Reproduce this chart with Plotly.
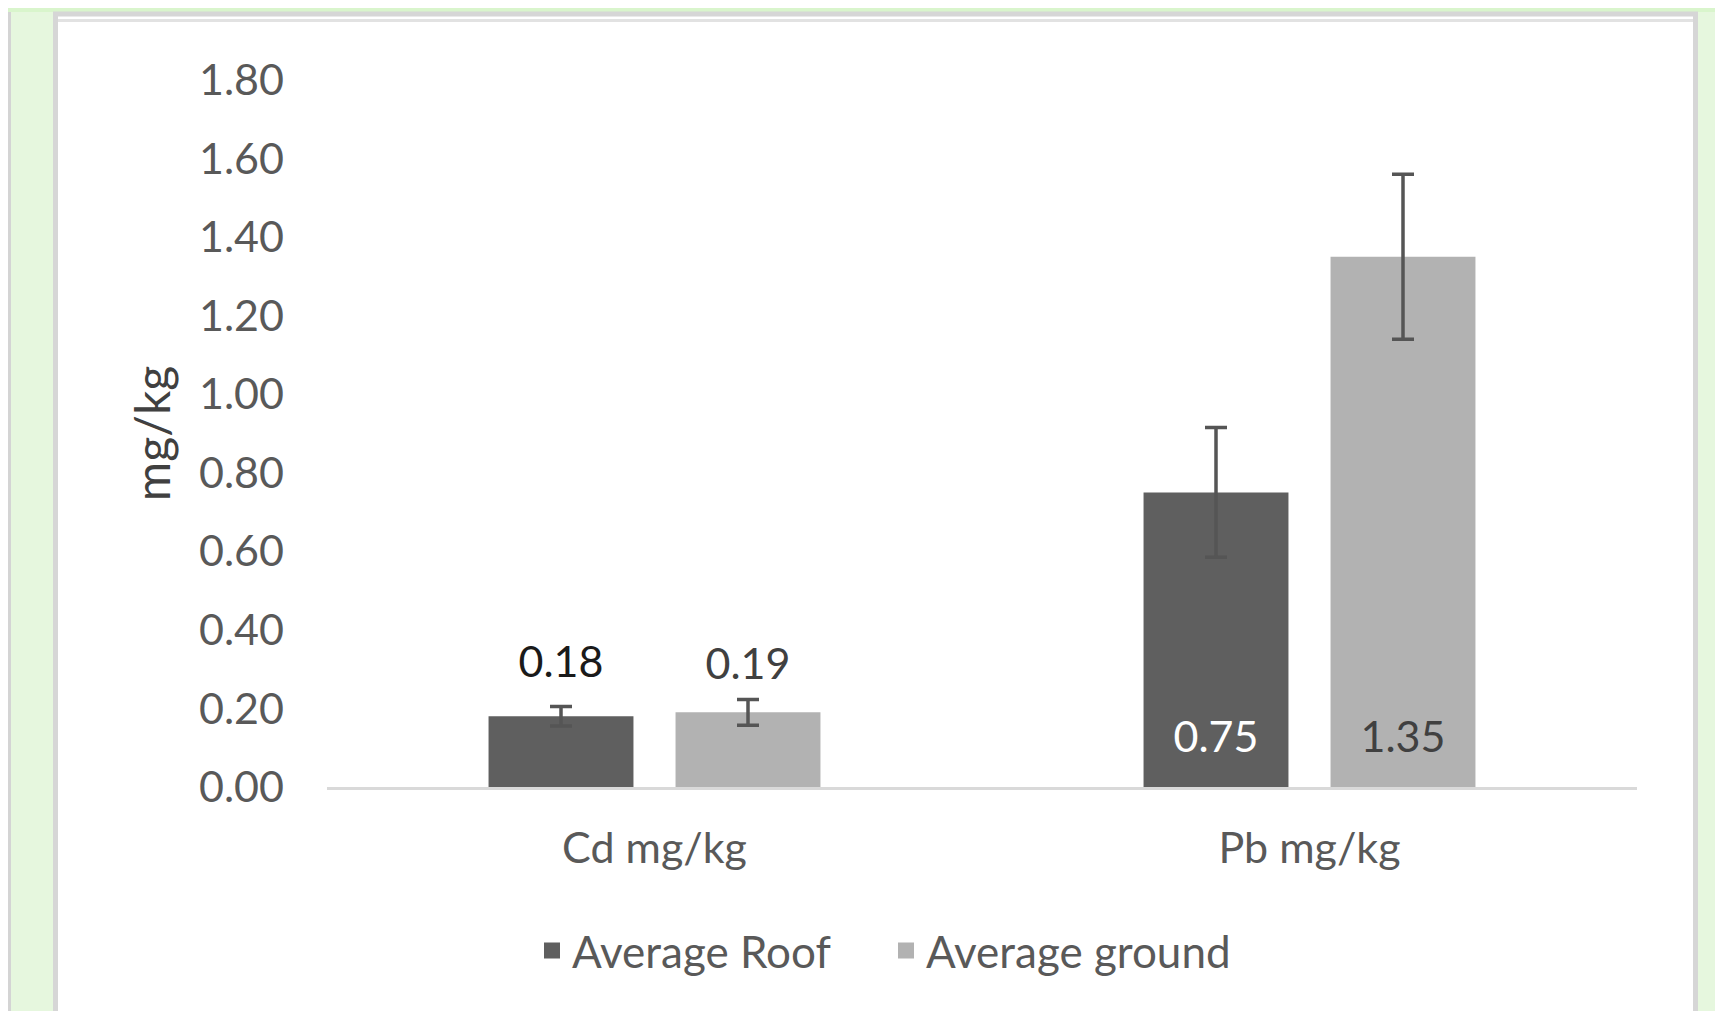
import plotly.graph_objects as go

categories = ["Cd mg/kg", "Pb mg/kg"]
series_names = ["Average Roof", "Average ground"]
roof_values = [0.18, 0.75]
ground_values = [0.19, 1.35]
roof_err = [0.025, 0.165]
ground_err = [0.033, 0.21]
roof_label_colors = ["#1a1a1a", "#ffffff"]
ground_label_colors = ["#404040", "#404040"]
y_ticks = [0.0, 0.2, 0.4, 0.6, 0.8, 1.0, 1.2, 1.4, 1.6, 1.8]

ROOF_COLOR = "#5f5f5f"
GROUND_COLOR = "#b2b2b2"
ERR_COLOR = "#555555"
FONT = "Lato"
FS = 43

OFF = 8  # page body margin offset
W, H = 1723, 1011
PW, PH = 1310, 707
ML = 327 - OFF
MT = 80 - OFF
MR = W - ML - PW
MB = H - MT - PH

def xp(px):
    return (px - OFF - ML) / PW

def yp(py):
    return (MT + PH - (py - OFF)) / PH

fig = go.Figure()

# label offset (marker radius) per point: styling only
roof_label_pad = [44, 37]
ground_label_pad = [35, 37]

series = [
    (series_names[0], roof_values, roof_err, ROOF_COLOR, roof_label_colors, "roof", roof_label_pad),
    (series_names[1], ground_values, ground_err, GROUND_COLOR, ground_label_colors, "ground", ground_label_pad),
]

for name, vals, errs, color, lcolors, og, pad in series:
    fig.add_trace(go.Bar(
        x=categories, y=vals, name=name, marker=dict(color=color, line=dict(width=0)),
        error_y=dict(type="data", array=errs, visible=True, color=ERR_COLOR, thickness=3.5, width=11),
        offsetgroup=og, showlegend=False, hoverinfo="skip",
    ))

# data labels: above small bars, at the base inside tall bars
for name, vals, errs, color, lcolors, og, pad in series:
    ypos = [v if v < 0.5 else 0 for v in vals]
    fig.add_trace(go.Scatter(
        x=categories, y=ypos, mode="markers+text",
        text=[f"{v:.2f}" for v in vals], textposition="top center",
        textfont=dict(family=FONT, size=FS, color=lcolors),
        marker=dict(size=pad, color="rgba(0,0,0,0)", opacity=0,
                    line=dict(width=0, color="rgba(0,0,0,0)")),
        offsetgroup=og, showlegend=False, hoverinfo="skip",
    ))

# legend entries
for name, vals, errs, color, lcolors, og, pad in series:
    fig.add_trace(go.Scatter(
        x=[None], y=[None], mode="markers", name=name,
        marker=dict(symbol="square", size=22, color=color, line=dict(width=0)),
        offsetgroup=og, showlegend=True, hoverinfo="skip",
    ))

shapes = [
    dict(type="rect", xref="paper", yref="paper", x0=xp(-10), x1=xp(W + 10), y0=yp(12), y1=yp(-10),
         fillcolor="#d9f5cc", line=dict(width=0), layer="below"),
    dict(type="rect", xref="paper", yref="paper", x0=xp(6), x1=xp(11), y0=yp(H + 20), y1=yp(12),
         fillcolor="#d4d4d4", line=dict(width=0), layer="below"),
    dict(type="rect", xref="paper", yref="paper", x0=xp(55.5), x1=xp(1695.5), y0=yp(H + 30), y1=yp(14),
         fillcolor="#ffffff", line=dict(color="#d6d6d6", width=5), layer="below"),
    dict(type="line", xref="paper", yref="paper", x0=xp(58), x1=xp(1693), y0=yp(20.5), y1=yp(20.5),
         line=dict(color="#e2e2e2", width=3), layer="below"),
]

fig.update_layout(
    width=W, height=H,
    margin=dict(l=ML, r=MR, t=MT, b=MB, autoexpand=False),
    paper_bgcolor="#e6f7de", plot_bgcolor="#ffffff",
    barmode="group", bargap=0.429, bargroupgap=0.225,
    scattermode="group",
    font=dict(family=FONT, size=FS, color="#595959"),
    shapes=shapes,
    showlegend=True,
    legend=dict(orientation="h", x=xp(886), xanchor="center", y=yp(951), yanchor="middle",
                font=dict(family=FONT, size=44, color="#595959"), bgcolor="rgba(0,0,0,0)",
                itemclick=False, entrywidth=309, entrywidthmode="pixels"),
)

fig.update_yaxes(
    range=[0, 1.8], tickvals=y_ticks, tickformat=".2f", showgrid=False, zeroline=False,
    showline=False, ticks="", ticklabelstandoff=42,
    tickfont=dict(family=FONT, size=FS, color="#595959"),
    title=dict(text="mg/kg", font=dict(family=FONT, size=48, color="#404040"), standoff=13),
)
fig.update_xaxes(
    showline=True, linecolor="#d9d9d9", linewidth=3, showgrid=False, zeroline=False,
    ticks="", ticklabelstandoff=21,
    tickfont=dict(family=FONT, size=FS, color="#595959"),
)

fig.write_html("out.html")
